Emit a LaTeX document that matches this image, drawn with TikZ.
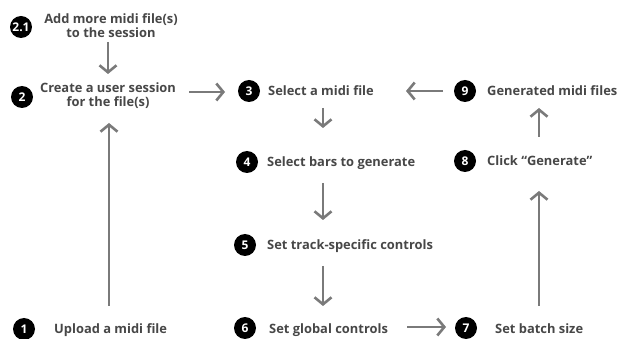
\documentclass[tikz,border=0pt]{standalone}
\usepackage{fontspec}
\setmainfont{Open Sans}
\usetikzlibrary{arrows.meta}
\definecolor{txt}{HTML}{474747}
\definecolor{arr}{HTML}{7A7A7A}
\tikzset{
  num/.style={circle,fill=black,text=white,minimum size=22pt,inner sep=0pt,font=\bfseries\fontsize{12}{12}\selectfont},
  lbl/.style={anchor=west,inner sep=0pt,text=txt,font=\bfseries\fontsize{12.9}{14}\selectfont,text height=9.4pt,text depth=0pt},
  lbl2/.style={inner sep=0pt,text=txt,align=center,font=\bfseries\fontsize{12.9}{14}\selectfont},
  flow/.style={draw=arr,line width=2.6pt,-{Straight Barb[length=7pt,width=17pt]}}
}
\begin{document}
\begin{tikzpicture}[x=1pt,y=-1pt]
\useasboundingbox (0,0) rectangle (619,339);
% step circles
\node[num] (c21) at (21,27) {2.1};
\node[num] (c2) at (22,97) {2};
\node[num] (c1) at (24,329) {1};
\node[num] (c3) at (249,91) {3};
\node[num] (c4) at (247,162) {4};
\node[num] (c5) at (245,245) {5};
\node[num] (c6) at (245,328) {6};
\node[num] (c7) at (466,328) {7};
\node[num] (c8) at (465,161) {8};
\node[num] (c9) at (465,91) {9};
% labels
\node[lbl2] (t21) at (111,26) {Add more midi file(s)\\to the session};
\node[lbl2] (t2) at (108,96) {Create a user session\\for the file(s)};
\node[lbl] (t1) at (54,329) {Upload a midi file};
\node[lbl] (t3) at (268,91) {Select a midi file};
\node[lbl] (t4) at (267,162) {Select bars to generate};
\node[lbl] (t5) at (267,245) {Set track-specific controls};
\node[lbl] (t6) at (269,329) {Set global controls};
\node[lbl] (t7) at (495,329) {Set batch size};
\node[lbl] (t8) at (487,161) {Click “Generate”};
\node[lbl] (t9) at (487,91) {Generated midi files};
% connector end points
\coordinate (a21s) at (108,42);  \coordinate (a21e) at (108,74);
\coordinate (a1s) at (109,306);  \coordinate (a1e) at (109,123);
\coordinate (a2s) at (189,92);   \coordinate (a2e) at (225,92);
\coordinate (a9s) at (443,91);   \coordinate (a9e) at (406,91);
\coordinate (a3s) at (323,108);  \coordinate (a3e) at (323,128);
\coordinate (a4s) at (323,183);  \coordinate (a4e) at (323,220);
\coordinate (a5s) at (323,266);  \coordinate (a5e) at (323,306);
\coordinate (a6s) at (407,327);  \coordinate (a6e) at (446,327);
\coordinate (a7s) at (539,306);  \coordinate (a7e) at (539,191);
\coordinate (a8s) at (539,137);  \coordinate (a8e) at (539,108);
% connectors
\draw[flow] (a21s) -- (a21e);
\draw[flow] (a1s) -- (a1e);
\draw[flow] (a2s) -- (a2e);
\draw[flow] (a9s) -- (a9e);
\draw[flow] (a3s) -- (a3e);
\draw[flow] (a4s) -- (a4e);
\draw[flow] (a5s) -- (a5e);
\draw[flow] (a6s) -- (a6e);
\draw[flow] (a7s) -- (a7e);
\draw[flow] (a8s) -- (a8e);
\end{tikzpicture}
\end{document}
